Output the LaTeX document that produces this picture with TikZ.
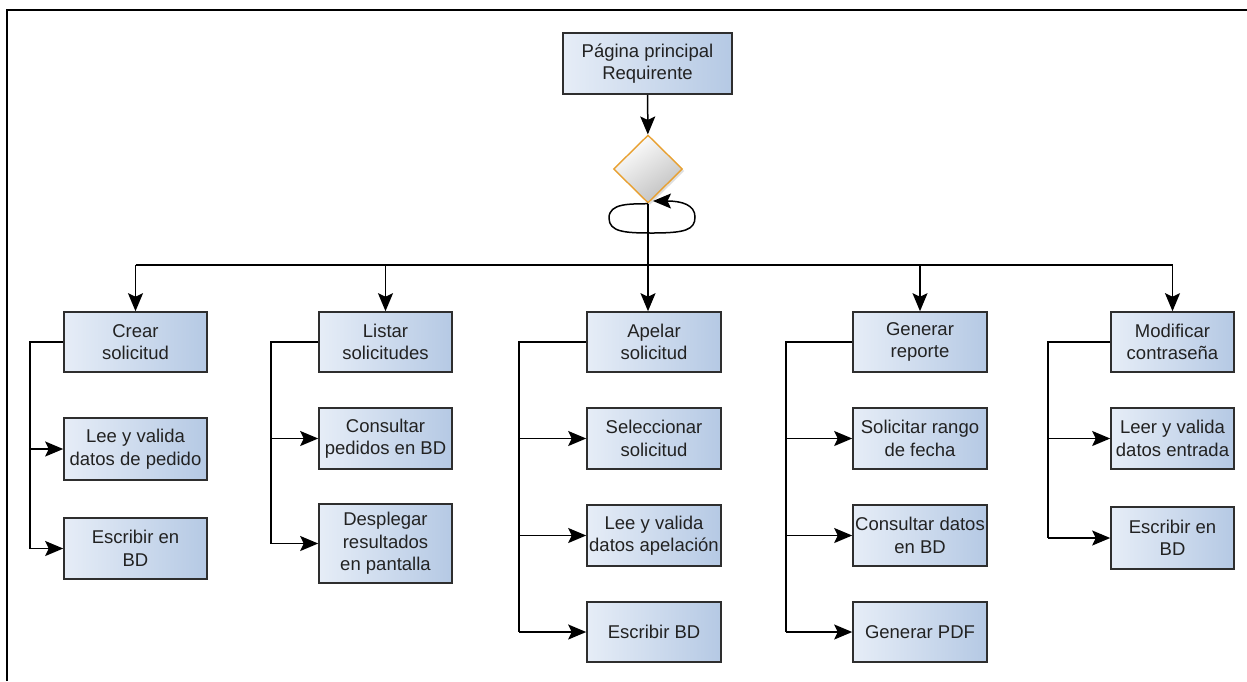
\documentclass[tikz,border=0pt]{standalone}
\usepackage{fontspec}
\setmainfont{Liberation Sans}
\usetikzlibrary{shapes.geometric,arrows.meta,shadows}
\definecolor{boxleft}{HTML}{E6EDF7}
\definecolor{boxright}{HTML}{B5C9E4}
\definecolor{boxline}{HTML}{2E2E2E}
\definecolor{txt}{HTML}{222222}
\definecolor{decline}{HTML}{E8A030}
\begin{document}
\begin{tikzpicture}[x=1pt,y=-1pt,
  every node/.style={font=\fontsize{18.5}{22.5}\selectfont, text=txt},
  procbox/.style={rectangle, draw=boxline, line width=1.6pt,
    left color=boxleft, right color=boxright,
    align=center, inner sep=0pt, minimum height=61pt},
  decbox/.style={diamond, draw=decline, line width=1.4pt, inner sep=0pt,
    minimum width=69pt, minimum height=68pt,
    top color=white, bottom color=black!25, shading angle=35,
    drop shadow={opacity=0.25, shadow xshift=2pt, shadow yshift=-2pt}},
  link/.style={draw=black, line width=1.5pt},
  arr/.style={link, -{Stealth[length=18pt,width=15pt,inset=3.5pt]}}
]
\useasboundingbox (0,0) rectangle (1247,681);
% page frame (top and left edges only)
\draw[line width=2pt] (7,681) -- (7,10) -- (1247,10);

% top level
\node[procbox, minimum width=169pt] (top) at (647.5,63.5) {Página principal\\Requirente};
\node[decbox] (dia) at (648,169) {};

% main options
\node[procbox, minimum width=143pt, minimum height=60pt] (crear)  at (135.5,342) {Crear\\solicitud};
\node[procbox, minimum width=133pt, minimum height=60pt] (listar) at (385.5,342) {Listar\\solicitudes};
\node[procbox, minimum width=134pt, minimum height=60pt] (apelar) at (654,342)   {Apelar\\solicitud};
\node[procbox, minimum width=134pt, minimum height=60pt] (gener)  at (920,342)   {Generar\\reporte};
\node[procbox, minimum width=123pt, minimum height=60pt] (modif)  at (1172.5,342) {Modificar\\contraseña};

% sub steps
\node[procbox, minimum width=143pt, minimum height=62pt] (c1) at (135.5,449)   {Lee y valida\\datos de pedido};
\node[procbox, minimum width=143pt] (c2) at (135.5,548.5) {Escribir en\\BD};

\node[procbox, minimum width=133pt] (l1) at (385.5,438.5) {Consultar\\pedidos en BD};
\node[procbox, minimum width=133pt, minimum height=79pt] (l2) at (385.5,543.5) {Desplegar\\resultados\\en pantalla};

\node[procbox, minimum width=134pt] (a1) at (654,438.5) {Seleccionar\\solicitud};
\node[procbox, minimum width=134pt] (a2) at (654,535.5) {Lee y valida\\datos apelación};
\node[procbox, minimum width=134pt, minimum height=60pt] (a3) at (654,632) {Escribir BD};

\node[procbox, minimum width=134pt] (g1) at (920,438.5) {Solicitar rango\\de fecha};
\node[procbox, minimum width=134pt] (g2) at (920,535.5) {Consultar datos\\en BD};
\node[procbox, minimum width=134pt, minimum height=60pt] (g3) at (920,632) {Generar PDF};

\node[procbox, minimum width=123pt] (m1) at (1172.5,438.5) {Leer y valida\\datos entrada};
\node[procbox, minimum width=123pt, minimum height=62pt] (m2) at (1172.5,538) {Escribir en\\BD};

% bus and bracket coordinates
\coordinate (bus) at (648,265);
\coordinate (bc) at (30,342);
\coordinate (bl) at (271,342);
\coordinate (ba) at (519,342);
\coordinate (bg) at (786,342);
\coordinate (bm) at (1048,342);

% top to decision, self loop
\draw[arr] (top) -- (dia);
\draw[arr] (dia.south) .. controls (630,204) and (609,203) .. (609,218)
  .. controls (609,232) and (625,233) .. (652,233)
  .. controls (685,233) and (695,230) .. (695,217)
  .. controls (695,205) and (682,201) .. (653,201);

% distribution bus
\draw[link] (dia.south) -- (bus);
\draw[link] (crear.north |- bus) -- (modif.north |- bus);
\draw[arr] (crear.north |- bus) -- (crear.north);
\draw[arr] (listar.north |- bus) -- (listar.north);
\draw[arr] (bus) -- (bus |- apelar.north);
\draw[arr] (gener.north |- bus) -- (gener.north);
\draw[arr] (modif.north |- bus) -- (modif.north);

% brackets to the sub steps
\draw[link] (crear.west) -- (bc) -- (bc |- c2);
\draw[arr] (bc |- c1) -- (c1.west);
\draw[arr] (bc |- c2) -- (c2.west);

\draw[link] (listar.west) -- (bl) -- (bl |- l2);
\draw[arr] (bl |- l1) -- (l1.west);
\draw[arr] (bl |- l2) -- (l2.west);

\draw[link] (apelar.west) -- (ba) -- (ba |- a3);
\draw[arr] (ba |- a1) -- (a1.west);
\draw[arr] (ba |- a2) -- (a2.west);
\draw[arr] (ba |- a3) -- (a3.west);

\draw[link] (gener.west) -- (bg) -- (bg |- g3);
\draw[arr] (bg |- g1) -- (g1.west);
\draw[arr] (bg |- g2) -- (g2.west);
\draw[arr] (bg |- g3) -- (g3.west);

\draw[link] (modif.west) -- (bm) -- (bm |- m2);
\draw[arr] (bm |- m1) -- (m1.west);
\draw[arr] (bm |- m2) -- (m2.west);
\end{tikzpicture}
\end{document}
